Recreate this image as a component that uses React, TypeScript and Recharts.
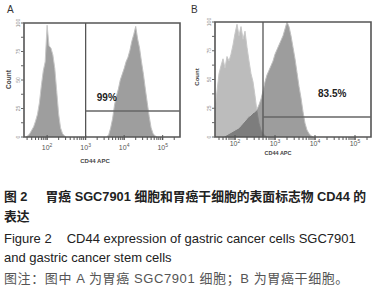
import { ComposedChart, Area, XAxis, YAxis, ReferenceLine, ReferenceArea, ReferenceDot } from 'recharts';

// Panel A: SGC7901 cells (log10 fluorescence bins, counts scaled 0-100)
const ctrlAX = [1.45, 1.5, 1.55, 1.6, 1.65, 1.7, 1.75, 1.8, 1.85, 1.9, 1.95, 2.0, 2.05, 2.1, 2.15, 2.2, 2.25, 2.3, 2.35, 2.4, 2.45, 2.5];
const ctrlAY = [0, 1, 3, 6, 9, 14, 20, 30, 45, 58, 66, 98, 80, 78, 72, 60, 40, 20, 8, 3, 1, 0];
const cd44AX = [3.55, 3.6, 3.65, 3.7, 3.75, 3.8, 3.85, 3.9, 3.95, 4.0, 4.05, 4.1, 4.15, 4.2, 4.25, 4.3, 4.35, 4.4, 4.45, 4.5, 4.55, 4.6, 4.65, 4.7, 4.75, 4.8, 4.85];
const cd44AY = [0, 2, 8, 16, 28, 36, 42, 50, 55, 60, 66, 70, 76, 84, 90, 97, 86, 78, 66, 55, 42, 30, 18, 8, 3, 1, 0];

// Panel B: gastric cancer stem cells
const ctrlBX = [1.5, 1.55, 1.6, 1.65, 1.7, 1.75, 1.8, 1.85, 1.9, 1.95, 2.0, 2.05, 2.1, 2.15, 2.2, 2.25, 2.3, 2.35, 2.4, 2.45, 2.5, 2.55, 2.6, 2.65, 2.7, 2.75, 2.8];
const ctrlBY = [25, 40, 55, 62, 68, 60, 70, 66, 72, 80, 90, 98, 88, 96, 85, 92, 78, 66, 55, 48, 36, 22, 12, 6, 3, 1, 0];
const cd44BX = [1.7, 1.75, 1.8, 1.85, 1.9, 1.95, 2.0, 2.05, 2.1, 2.15, 2.2, 2.25, 2.3, 2.35, 2.4, 2.45, 2.5, 2.55, 2.6, 2.65, 2.7, 2.75, 2.8, 2.85, 2.9, 2.95, 3.0, 3.05, 3.1, 3.15, 3.2, 3.25, 3.3, 3.35, 3.4, 3.45, 3.5, 3.55, 3.6, 3.65, 3.7, 3.75, 3.8, 3.85, 3.9, 3.95];
const cd44BY = [0, 1, 2, 3, 4, 5, 6, 7, 8, 10, 12, 14, 16, 18, 19, 21, 22, 24, 28, 33, 40, 48, 54, 58, 62, 66, 72, 76, 80, 84, 88, 94, 100, 96, 88, 78, 68, 56, 44, 34, 22, 12, 6, 3, 1, 0];

// log ticks (minor + decades)
const logTicks = [1.48, 1.6, 1.7, 1.78, 1.85, 1.9, 1.95, 2, 2.3, 2.48, 2.6, 2.7, 2.78, 2.85, 2.9, 2.95, 3, 3.3, 3.48, 3.6, 3.7, 3.78, 3.85, 3.9, 3.95, 4, 4.3, 4.48, 4.6, 4.7, 4.78, 4.85, 4.9, 4.95, 5, 5.3];
const countTicks = [0, 12.5, 25, 37.5, 50, 62.5, 75, 87.5, 100];

const zip = (xs: number[], ys: number[]) => xs.map((x, i) => ({ x, y: ys[i] }));

const SANS = "'Liberation Sans', Arial, 'Noto Sans CJK SC', sans-serif";

const LogTick = (props: any) => {
  const { x, y, payload, dy } = props;
  const v = payload.value;
  if (Math.abs(v - Math.round(v)) > 0.001) return <g />;
  return (
    <g>
      <line x1={x} x2={x} y1={y - 5} y2={y} stroke="#555" strokeWidth={1} />
      <text x={x} y={y + dy} textAnchor="middle" fontSize={7} fill="#555" fontFamily={SANS}>
        10<tspan dy={-3} fontSize={5}>{Math.round(v)}</tspan>
      </text>
    </g>
  );
};

const CountTick = (props: any) => {
  const { x, y, payload } = props;
  if (payload.value % 25 !== 0) return <g />;
  return (
    <text x={x} y={y} transform={`rotate(-90 ${x} ${y})`} textAnchor="middle" fontSize={5} fill="#888" fontFamily={SANS}>
      {payload.value}
    </text>
  );
};

interface PanelProps {
  width: number;
  margin: { top: number; right: number; left: number; bottom: number };
  domain: [number, number];
  ctrl: { x: number; y: number }[];
  sample: { x: number; y: number }[];
  ctrlFill: string;
  sampleFill: string;
  sampleOpacity: number;
  gateX: number;
  gateY: number;
  pct: string;
  pctX: number;
  pctY: number;
  tickDy: number;
}

const Histogram = (p: PanelProps) => (
  <ComposedChart width={p.width} height={175} margin={p.margin}>
    <XAxis
      type="number"
      dataKey="x"
      domain={p.domain}
      allowDataOverflow
      ticks={logTicks.filter((t) => t > p.domain[0] && t < p.domain[1])}
      interval={0}
      height={24}
      tickSize={3}
      tickMargin={0}
      axisLine={false}
      tickLine={{ stroke: '#555' }}
      tick={(t: any) => <LogTick {...t} dy={p.tickDy} />}
    />
    <YAxis
      type="number"
      dataKey="y"
      domain={[0, 100]}
      ticks={countTicks}
      interval={0}
      width={10}
      tickSize={3}
      tickMargin={1}
      axisLine={false}
      tickLine={{ stroke: '#666' }}
      tick={(t: any) => <CountTick {...t} />}
    />
    <Area data={p.ctrl} dataKey="y" type="linear" fill={p.ctrlFill} fillOpacity={1} stroke="#c8c8c8" strokeWidth={1} isAnimationActive={false} />
    <Area data={p.sample} dataKey="y" type="linear" fill={p.sampleFill} fillOpacity={p.sampleOpacity} stroke="#c0c0c0" strokeWidth={1} isAnimationActive={false} />
    <ReferenceArea x1={p.domain[0]} x2={p.domain[1]} y1={0} y2={100} fill="none" stroke="#555" strokeWidth={1.6} />
    <ReferenceLine x={p.gateX} stroke="#555" strokeWidth={1.3} />
    <ReferenceLine segment={[{ x: p.gateX, y: p.gateY }, { x: p.domain[1], y: p.gateY }]} stroke="#666" strokeWidth={1.3} />
    <ReferenceDot
      x={p.pctX}
      y={p.pctY}
      r={0.01}
      fill="none"
      stroke="none"
      label={{ value: p.pct, position: 'center', fontSize: 10, fontWeight: 'bold', fill: '#222', fontFamily: SANS }}
    />
  </ComposedChart>
);

const abs = (left: number, top: number, extra: any = {}) => ({ position: 'absolute' as const, left, top, ...extra });

export default function App() {
  return (
    <div style={{ position: 'absolute', left: 0, top: 0, width: 391, height: 300, background: '#fff', fontFamily: SANS, overflow: 'hidden' }}>
      <div style={abs(0, 0)}>
        <Histogram
          width={190}
          margin={{ top: 23, right: 10, left: 14, bottom: 14 }}
          domain={[1.4, 5.45]}
          ctrl={zip(ctrlAX, ctrlAY)}
          sample={zip(cd44AX, cd44AY)}
          ctrlFill="#9e9e9e"
          sampleFill="#9e9e9e"
          sampleOpacity={1}
          gateX={3}
          gateY={22.8}
          pct="99%"
          pctX={3.55}
          pctY={35}
          tickDy={10}
        />
      </div>
      <div style={abs(190, 0)}>
        <Histogram
          width={201}
          margin={{ top: 22, right: 20, left: 15, bottom: 14 }}
          domain={[1.5, 5.4]}
          ctrl={zip(ctrlBX, ctrlBY)}
          sample={zip(cd44BX, cd44BY)}
          ctrlFill="#bcbcbc"
          sampleFill="#444"
          sampleOpacity={0.52}
          gateX={2.7}
          gateY={17.4}
          pct="83.5%"
          pctX={4.43}
          pctY={38}
          tickDy={6}
        />
      </div>

      <div style={abs(7, 4, { fontSize: 10, color: '#333' })}>A</div>
      <div style={abs(191, 4, { fontSize: 10, color: '#333' })}>B</div>

      <div style={abs(-12, 76, { fontSize: 6.5, fontWeight: 'bold', color: '#444', transform: 'rotate(-90deg)', width: 40, textAlign: 'center' })}>Count</div>
      <div style={abs(177, 74, { fontSize: 6, fontWeight: 'bold', color: '#444', transform: 'rotate(-90deg)', width: 40, textAlign: 'center' })}>Count</div>
      <div style={abs(70, 158, { fontSize: 6, fontWeight: 'bold', color: '#444', width: 50, textAlign: 'center' })}>CD44 APC</div>
      <div style={abs(253, 150, { fontSize: 5.5, fontWeight: 'bold', color: '#444', width: 50, textAlign: 'center' })}>CD44 APC</div>

      <div style={abs(4, 189, { fontSize: 12.8, lineHeight: '16px', color: '#222', fontWeight: 'bold', whiteSpace: 'nowrap' })}>
        图 2<span style={{ marginLeft: 18 }}>胃癌 SGC7901 细胞和胃癌干细胞的表面标志物 CD44 的</span>
      </div>
      <div style={abs(4, 209, { fontSize: 12.8, lineHeight: '16px', color: '#222', fontWeight: 'bold', whiteSpace: 'nowrap' })}>表达</div>
      <div style={abs(4, 231, { fontSize: 13, lineHeight: '16px', color: '#222', whiteSpace: 'nowrap' })}>
        Figure 2<span style={{ marginLeft: 15 }}>CD44 expression of gastric cancer cells SGC7901</span>
      </div>
      <div style={abs(4, 250, { fontSize: 13, lineHeight: '16px', color: '#222', whiteSpace: 'nowrap' })}>and gastric cancer stem cells</div>
      <div style={abs(4, 271, { fontSize: 13, letterSpacing: 0.6, lineHeight: '16px', color: '#555', whiteSpace: 'nowrap' })}>
        图注：图中 A 为胃癌 SGC7901 细胞；B 为胃癌干细胞。
      </div>
    </div>
  );
}
